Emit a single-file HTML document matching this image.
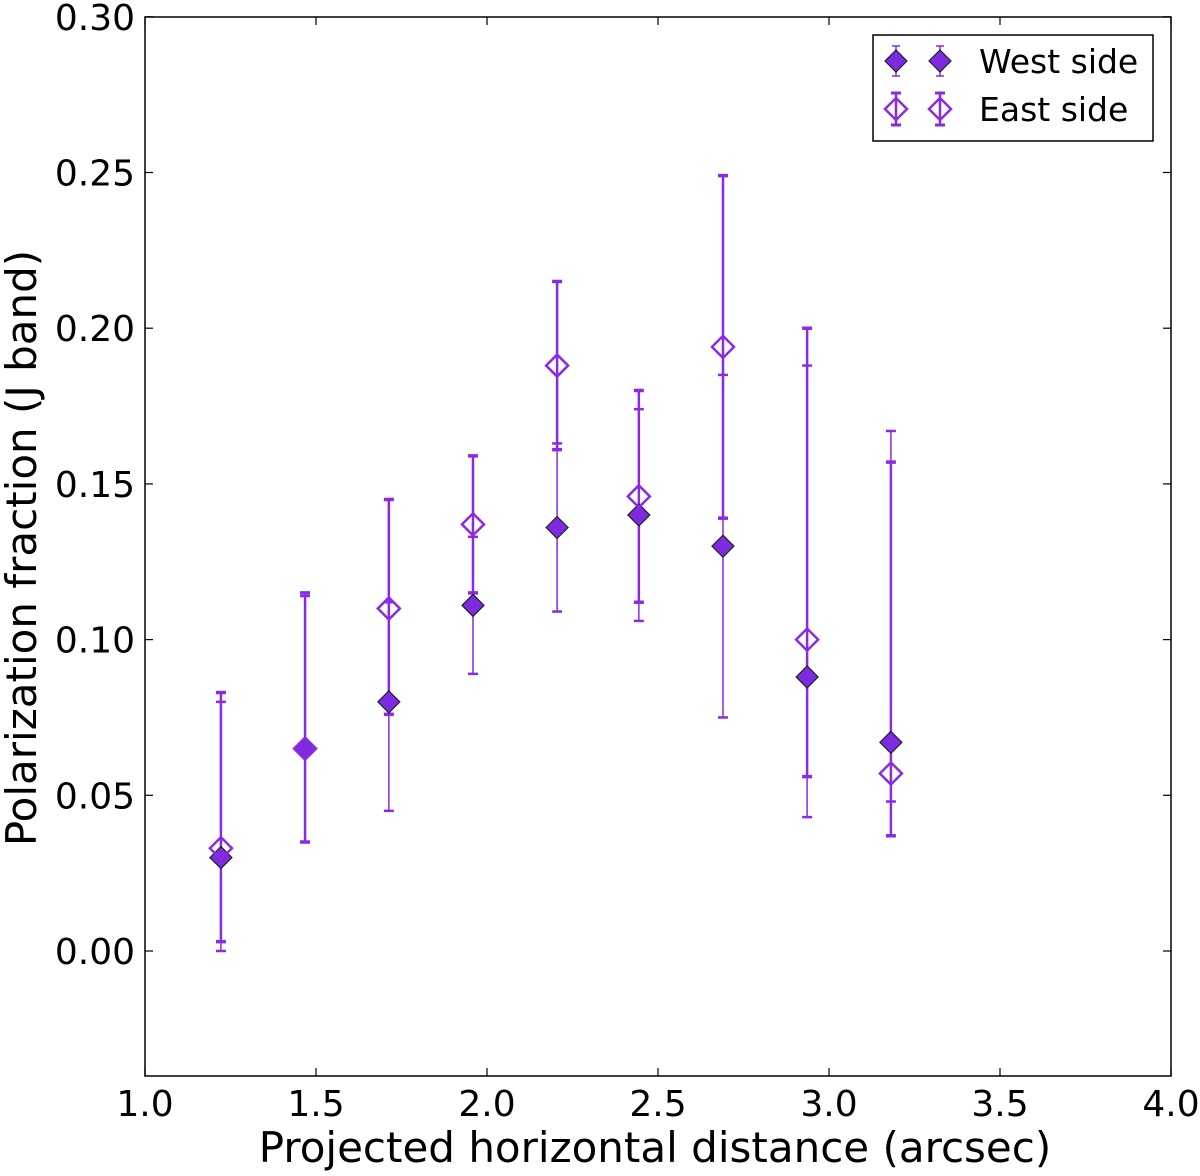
<!DOCTYPE html>
<html><head><meta charset="utf-8"><style>
body{margin:0;background:#fff}
svg text{font-family:"DejaVu Sans","Liberation Sans",sans-serif}
</style></head><body>
<svg id="chart" width="1200" height="1171" xmlns="http://www.w3.org/2000/svg">
<g id="marks"></g>
<g id="axes"></g>
</svg>
<script>
const xs = [1.222, 1.468, 1.713, 1.959, 2.205, 2.444, 2.69, 2.936, 3.181];
const westVals = [0.030, 0.065, 0.080, 0.111, 0.136, 0.140, 0.130, 0.088, 0.067];
const westLo = [0.000, 0.035, 0.045, 0.089, 0.109, 0.106, 0.075, 0.043, 0.048];
const westHi = [0.080, 0.114, 0.112, 0.133, 0.163, 0.174, 0.185, 0.188, 0.167];
const eastVals = [0.033, 0.065, 0.110, 0.137, 0.188, 0.146, 0.194, 0.100, 0.057];
const eastLo = [0.003, 0.035, 0.076, 0.115, 0.161, 0.112, 0.139, 0.056, 0.037];
const eastHi = [0.083, 0.115, 0.145, 0.159, 0.215, 0.180, 0.249, 0.200, 0.157];
const xTicks = [1.0, 1.5, 2.0, 2.5, 3.0, 3.5, 4.0];
const yTicks = [0.00, 0.05, 0.10, 0.15, 0.20, 0.25, 0.30];

const L=145,R=1171,T=17,B=1076;
const X=v=>L+(v-1.0)/3.0*(R-L);
const Y0=951, PY=3114;
const Y=v=>Y0-v*PY;
const NS='http://www.w3.org/2000/svg';
function mk(tag,attrs,parent){const e=document.createElementNS(NS,tag);for(const k in attrs)e.setAttribute(k,attrs[k]);parent.appendChild(e);return e;}
const marks=document.getElementById('marks'), axes=document.getElementById('axes');
const PUR='#8a2be2';
function errbar(x,lo,hi,w,name){
  const g=mk('g',{},marks);
  
  
  mk('line',{x1:X(x),x2:X(x),y1:Y(lo),y2:Y(hi),stroke:PUR,'stroke-width':w},g);
  mk('line',{x1:X(x)-5,x2:X(x)+5,y1:Y(lo),y2:Y(lo),stroke:PUR,'stroke-width':w+1},g);
  mk('line',{x1:X(x)-5,x2:X(x)+5,y1:Y(hi),y2:Y(hi),stroke:PUR,'stroke-width':w+1},g);
}
function diamond(cx,cy,s,fill,stroke,sw,parent){
  return mk('polygon',{points:`${cx},${cy-s} ${cx+s},${cy} ${cx},${cy+s} ${cx-s},${cy}`,fill:fill,stroke:stroke,'stroke-width':sw},parent);
}
xs.forEach((x,i)=>{
  errbar(x,westLo[i],westHi[i],1.5,'west-errorbar');
  errbar(x,eastLo[i],eastHi[i],2.5,'east-errorbar');
});
xs.forEach((x,i)=>{
  const d=diamond(X(x),Y(westVals[i]),11,'#7d2ae0','#222',1.2,marks);
  
  
  const e=diamond(X(x),Y(eastVals[i]),11,'none',PUR,2.5,marks);
  
  
});
const fr=mk('rect',{x:L,y:T,width:R-L,height:B-T,fill:'none',stroke:'#000','stroke-width':1.5},axes);


xTicks.forEach(t=>{
  mk('line',{x1:X(t),x2:X(t),y1:B,y2:B-8,stroke:'#000','stroke-width':1.2},axes);
  mk('line',{x1:X(t),x2:X(t),y1:T,y2:T+8,stroke:'#000','stroke-width':1.2},axes);
  const tx=mk('text',{x:X(t),y:B+40,'font-size':36,'text-anchor':'middle'},axes);
  tx.textContent=t.toFixed(1);
  
  
});
yTicks.forEach(t=>{
  mk('line',{x1:L,x2:L+8,y1:Y(t),y2:Y(t),stroke:'#000','stroke-width':1.2},axes);
  mk('line',{x1:R,x2:R-8,y1:Y(t),y2:Y(t),stroke:'#000','stroke-width':1.2},axes);
  const tx=mk('text',{x:L-10,y:Y(t)+13,'font-size':36,'text-anchor':'end'},axes);
  tx.textContent=t.toFixed(2);
  
  
});
const xl=mk('text',{x:655,y:1162,'font-size':42,'text-anchor':'middle'},axes);
xl.textContent='Projected horizontal distance (arcsec)';


const yl=mk('text',{x:0,y:0,'font-size':42,'text-anchor':'middle',transform:`translate(36,548) rotate(-90)`},axes);
yl.textContent='Polarization fraction (J band)';


const lg=mk('g',{},axes);


mk('rect',{x:873,y:35,width:280,height:106,fill:'#fff',stroke:'#000','stroke-width':1.5},lg);
[896,940].forEach(cx=>{
  mk('line',{x1:cx,x2:cx,y1:46,y2:76,stroke:PUR,'stroke-width':1.5},lg);
  mk('line',{x1:cx-4,x2:cx+4,y1:46,y2:46,stroke:PUR,'stroke-width':1.5},lg);
  mk('line',{x1:cx-4,x2:cx+4,y1:76,y2:76,stroke:PUR,'stroke-width':1.5},lg);
  diamond(cx,61,11,'#7d2ae0','#222',1.2,lg);
  mk('line',{x1:cx,x2:cx,y1:93,y2:125,stroke:PUR,'stroke-width':2.5},lg);
  mk('line',{x1:cx-5,x2:cx+5,y1:93,y2:93,stroke:PUR,'stroke-width':3},lg);
  mk('line',{x1:cx-5,x2:cx+5,y1:125,y2:125,stroke:PUR,'stroke-width':3},lg);
  diamond(cx,109,11,'none',PUR,2.5,lg);
});
const t1=mk('text',{x:979,y:73,'font-size':33},lg);t1.textContent='West side';


const t2=mk('text',{x:979,y:121,'font-size':33},lg);t2.textContent='East side';


</script>
</body></html>
